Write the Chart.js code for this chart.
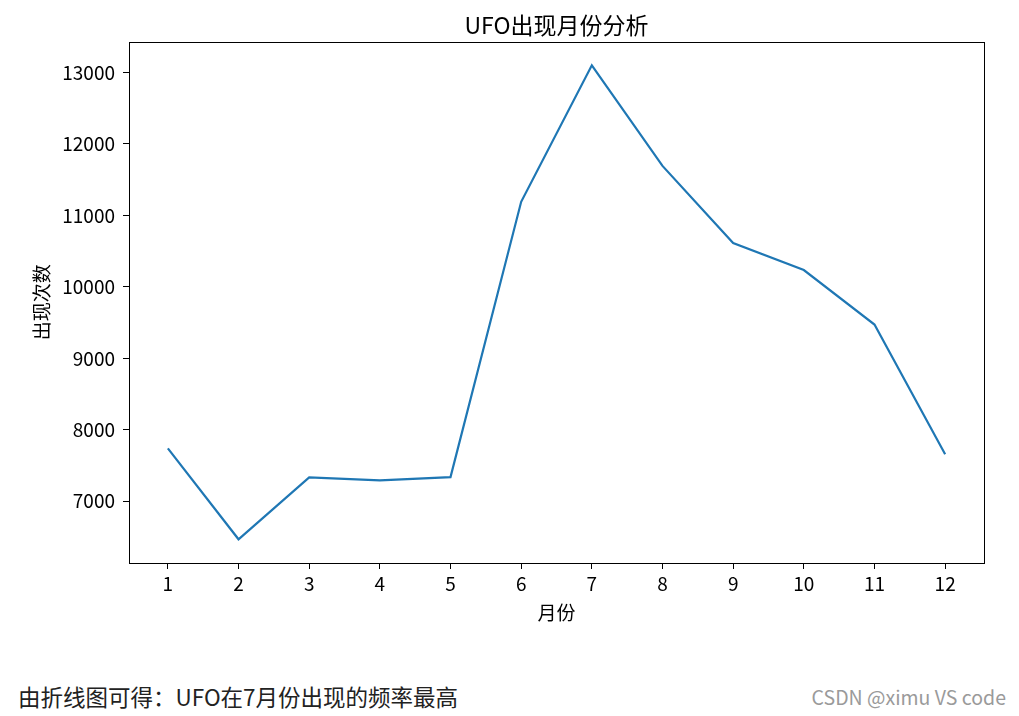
<!DOCTYPE html>
<html>
<head>
<meta charset="utf-8">
<script src="https://cdn.jsdelivr.net/npm/chart.js@4.4.1/dist/chart.umd.min.js"></script>
<style>
    body { margin: 0; background: #fff; width: 1019px; height: 716px; overflow: hidden; position: relative; font-family: "Noto Sans CJK SC", sans-serif; }
    #wrap { position: absolute; left: 0; top: 0; width: 1019px; height: 624px; }
    #note { position: absolute; left: 18px; top: 680px; font-size: 22.5px; color: #222; line-height: 32px; }
    #mark { position: absolute; right: 13px; top: 684px; font-size: 19.5px; color: #9a9a9a; line-height: 26px; }
</style>
</head>
<body>
<div id="wrap"><canvas id="UfoMonthGraph" width="1019" height="624"></canvas></div>
<div id="note">由折线图可得：UFO在7月份出现的频率最高</div>
<div id="mark">CSDN @ximu VS code</div>
<script>
var months = [1, 2, 3, 4, 5, 6, 7, 8, 9, 10, 11, 12];
var counts = [7739, 6467, 7332, 7291, 7337, 11191, 13101, 11693, 10613, 10236, 9472, 7658];
var yTicks = [7000, 8000, 9000, 10000, 11000, 12000, 13000];

var font = "'Noto Sans CJK SC', sans-serif";

// box round the plot area like matplotlib's spines
var frame = {
    id: "frame",
    afterDraw: function (chart) {
        var a = chart.chartArea, ctx = chart.ctx;
        ctx.save();
        ctx.strokeStyle = "#000";
        ctx.lineWidth = 1;
        ctx.strokeRect(Math.round(a.left) + 0.5, Math.round(a.top) + 0.5, Math.round(a.right - a.left), Math.round(a.bottom - a.top));
        ctx.restore();
    }
};

var ctx = document.getElementById("UfoMonthGraph").getContext("2d");
var ufoChart = new Chart(ctx, {
    type: "line",
    data: {
        datasets: [{
            label: "出现次数",
            data: months.map(function (m, i) { return { x: m, y: counts[i] }; }),
            borderColor: "#1f77b4",
            backgroundColor: "rgba(0,0,0,0)",
            borderWidth: 2.2,
            pointRadius: 0,
            tension: 0
        }]
    },
    plugins: [frame],
    options: {
        responsive: false,
        animation: false,
        devicePixelRatio: 1,
        layout: { padding: { left: 30, right: 35, top: 0, bottom: 0 } },
        plugins: {
            legend: { display: false },
            tooltip: { enabled: false },
            title: {
                display: true,
                fullSize: false,
                text: "UFO出现月份分析",
                color: "#000",
                font: { family: font, size: 23, weight: "normal" },
                padding: { top: 11, bottom: 3 }
            }
        },
        scales: {
            x: {
                type: "linear",
                min: 0.45,
                max: 12.55,
                afterBuildTicks: function (scale) {
                    scale.ticks = months.map(function (v) { return { value: v }; });
                },
                afterFit: function (scale) { scale.height = 624 - 563; },
                grid: { drawOnChartArea: false, drawTicks: true, tickLength: 6, color: "#000" },
                border: { display: false },
                ticks: {
                    color: "#000", padding: 3, autoSkip: false, maxRotation: 0,
                    font: { family: font, size: 19 },
                    callback: function (v) { return String(v); }
                },
                title: { display: true, text: "月份", color: "#000", font: { family: font, size: 19 }, padding: { top: 0, bottom: 0 } }
            },
            y: {
                min: 6135,
                max: 13433,
                afterBuildTicks: function (scale) {
                    scale.ticks = yTicks.map(function (v) { return { value: v }; });
                },
                afterFit: function (scale) { scale.width = 129 - 30; },
                grid: { drawOnChartArea: false, drawTicks: true, tickLength: 6, color: "#000" },
                border: { display: false },
                ticks: {
                    color: "#000", padding: 8, autoSkip: false,
                    font: { family: font, size: 19 },
                    callback: function (v) { return String(v); }
                },
                title: { display: true, text: "出现次数", color: "#000", font: { family: font, size: 19 }, padding: { top: 0, bottom: 0 } }
            }
        }
    }
});
</script>
</body>
</html>
